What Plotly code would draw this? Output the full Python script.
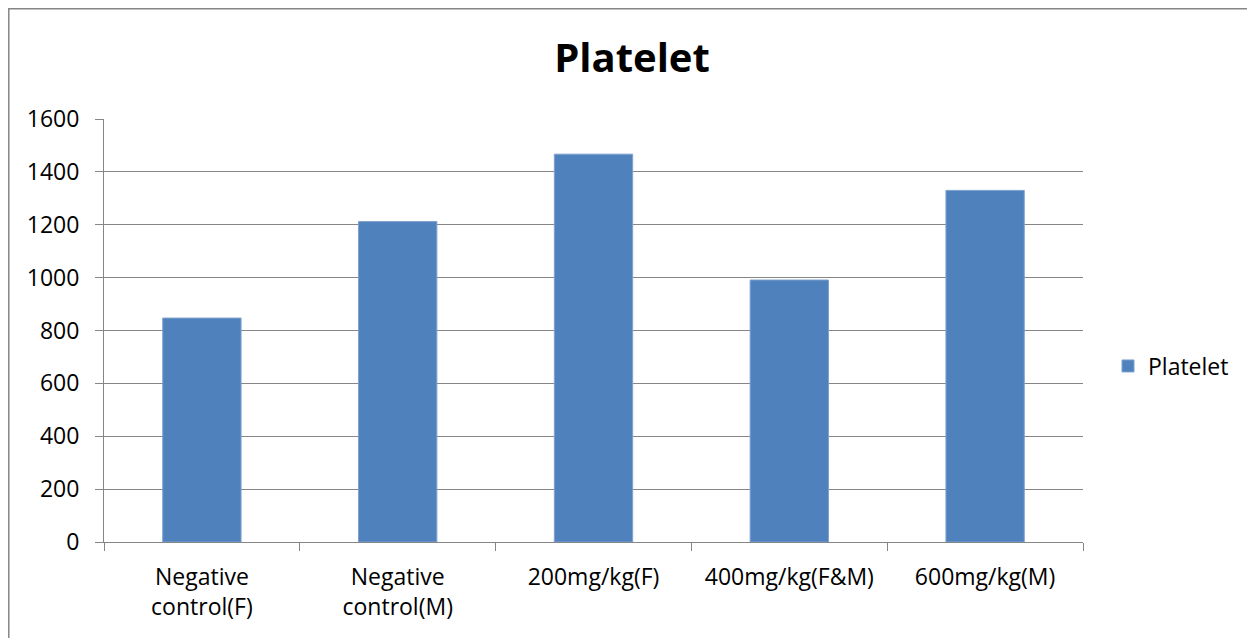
import plotly.graph_objects as go

categories = ["Negative<br>control(F)", "Negative<br>control(M)", "200mg/kg(F)", "400mg/kg(F&M)", "600mg/kg(M)"]
platelet = [847, 1212, 1467, 991, 1330]
y_ticks = [0, 200, 400, 600, 800, 1000, 1200, 1400, 1600]

W, H = 1255, 638
OFF = 8  # page body offset
# plot area in screen coords: x 104..1083, y 119..542
L = 104 - OFF
T = 119 - OFF
R = W - (1083 - OFF)
B = H - (542 - OFF)
pw = W - L - R
ph = H - T - B

FONT = "Open Sans"

fig = go.Figure()
fig.add_trace(go.Bar(
    x=categories, y=platelet, name="Platelet",
    marker=dict(color="#4F81BD", line=dict(color="#7DA1CF", width=1)),
))

fig.update_layout(
    width=W, height=H,
    margin=dict(l=L, r=R, t=T, b=B, autoexpand=False),
    paper_bgcolor="white", plot_bgcolor="white",
    bargap=0.6,
    title=dict(text="<b>Platelet</b>", x=(632 - OFF) / W, xanchor="center",
               y=1 - (58 - OFF) / H, yanchor="middle",
               font=dict(family=FONT, size=40, color="black")),
    font=dict(family=FONT, size=23, color="black"),
    showlegend=True,
    legend=dict(x=(1100 - L) / pw, xanchor="left", y=(H - B - (366 - OFF)) / ph, yanchor="middle",
                font=dict(family=FONT, size=23, color="black"),
                itemwidth=30, bgcolor="rgba(0,0,0,0)"),
    xaxis=dict(
        type="category", tickson="boundaries",
        ticks="outside", ticklen=8, tickcolor="#868686", tickwidth=1,
        showline=True, linecolor="#868686", linewidth=1,
        showgrid=False, ticklabelstandoff=14,
        tickfont=dict(family=FONT, size=23, color="black"),
    ),
    yaxis=dict(
        range=[0, 1600], tickvals=y_ticks,
        ticks="outside", ticklen=8, tickcolor="#868686", tickwidth=1,
        showline=True, linecolor="#868686", linewidth=1,
        showgrid=True, gridcolor="#868686", gridwidth=1,
        zeroline=False, ticklabelstandoff=11,
        tickfont=dict(family=FONT, size=23, color="black"),
    ),
)

# outer chart border (partially cropped in original)
fig.add_shape(type="rect", xref="paper", yref="paper",
              x0=(0.8 - L) / pw, x1=(W + 30 - L) / pw,
              y0=(H - B - (H + 30)) / ph, y1=(H - B - 0.8) / ph,
              line=dict(color="#868686", width=1.5), fillcolor="rgba(0,0,0,0)", layer="below")

fig.write_html("out.html")
